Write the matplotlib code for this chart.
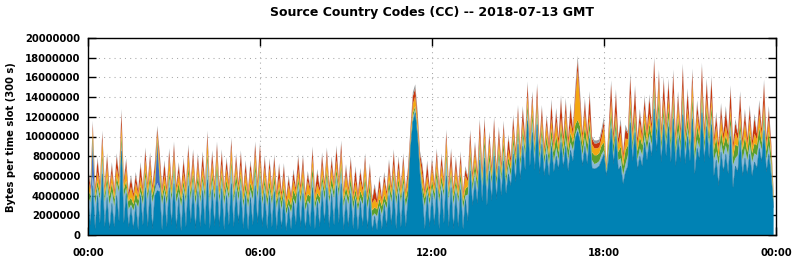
import numpy as np
import matplotlib
matplotlib.use("Agg")
import matplotlib.pyplot as plt

UNIT = 100_000  # values below are in units of 100 kB per 300 s slot

base = [36,10,50,6,40,12,62,8,38,5, 32,8,40,14,85,12,42,8,28,6,
        31,5,40,10,48,8,45,6,40,45, 44,5,40,8,48,10,52,6,38,4,
        42,8,50,12,46,6,44,8,45,10, 56,6,46,9,50,8,47,5,40,10,
        52,8,44,12,45,6,40,5,38,10, 50,12,50,8,42,6,40,8,44,5,
        38,6,36,4,28,6,34,10,44,8, 42,5,32,8,48,6,34,8,45,12,
        48,7,42,10,50,12,52,5,36,8, 42,6,36,5,34,9,45,6,38,4,
        19,5,27,6,31,8,40,10,46,6, 42,8,44,8,37,88,115,124,98,60,
        38,6,40,8,42,10,48,6,45,12, 60,8,48,6,42,8,46,6,36,14,
        65,30,55,32,76,34,78,30,65,35, 80,36,70,40,75,42,62,50,82,54,
        92,56,90,66,116,70,104,66,112,62, 92,60,82,60,90,64,80,66,94,68,
        90,65,86,75,98,105,95,70,90,72, 98,68,67,68,70,76,82,60,78,108,
        72,100,66,70,52,64,70,114,75,104, 66,80,70,94,76,94,80,128,85,118,
        74,112,80,110,74,118,70,98,74,122, 72,100,75,118,62,88,76,124,74,110,
        78,112,60,76,50,84,64,82,62,100, 48,70,64,96,60,78,62,82,60,74,
        68,88,74,106,64,82,60,28]

light = [4,23,10,25,9,24,14,25,15,26, 12,21,13,29,7,27,6,18,3,19,
         3,23,4,21,11,28,9,27,5,8, 3,26,6,23,10,25,13,27,6,25,
         7,25,12,24,11,25,9,25,10,26, 20,27,10,26,15,25,10,26,9,26,
         17,25,9,23,11,23,6,23,8,26, 15,25,14,23,9,23,8,23,8,22,
         5,20,7,17,3,17,3,21,8,25, 10,20,3,23,12,21,3,23,9,24,
         11,26,8,27,11,27,14,24,6,23, 8,20,4,20,4,22,8,21,5,15,
         3,14,3,15,3,19,7,23,11,25, 8,25,9,21,3,4,5,4,6,7,
         4,23,6,23,7,25,10,27,8,27, 17,28,10,25,8,25,9,21,4,27,
         12,15,10,14,12,16,12,18,10,17, 10,14,10,15,11,10,10,10,10,14,
         10,14,11,14,10,15,12,14,12,14, 10,12,10,11,8,10,9,10,8,10,
         9,11,8,11,4,4,5,11,9,10, 8,8,5,5,5,6,4,4,10,9,
         9,8,10,8,9,8,11,10,11,8, 10,8,11,8,10,9,11,13,11,10,
         12,9,11,9,12,10,11,8,12,12, 12,9,11,11,14,9,12,11,12,9,
         13,10,16,9,21,10,17,9,19,12, 23,8,17,10,16,10,14,10,14,9,
         13,9,12,12,12,9,11,4]

steel = [0]*288
steel[2] = 35
steel[14] = 2
steel[29] = 40
steel[30] = 8

green = [7,7,6,8,6,6,7,7,7,8, 9,7,6,6,8,7,7,8,7,6,
         9,7,6,8,7,6,7,7,9,5, 7,8,6,7,7,6,7,8,9,7,
         6,6,7,7,7,8,9,6,6,7, 7,8,7,6,9,7,6,8,7,6,
         7,7,9,8,6,6,7,7,7,8, 9,6,6,7,7,8,7,6,9,7,
         6,8,7,6,7,7,9,8,6,6, 7,7,7,8,9,6,6,7,7,8,
         7,6,9,7,6,8,7,6,7,7, 9,8,6,6,7,7,7,8,9,6,
         6,7,7,8,7,6,9,7,6,8, 7,6,7,7,9,4,4,3,3,4,
         7,8,6,6,7,7,9,8,7,6, 7,7,6,8,7,6,9,7,7,8,
         8,7,9,8,7,7,8,8,9,7, 7,8,8,7,9,8,7,7,8,8,
         9,7,7,8,8,7,9,8,7,7, 8,8,9,9,10,10,12,8,9,9,
         14,10,10,8,10,8,10,9,12,10, 9,8,9,8,8,9,8,3,9,10,
         10,9,8,12,9,14,10,10,8,9, 9,12,10,14,8,10,9,9,10,12,
         8,9,9,10,10,9,8,14,9,9, 10,10,8,12,9,14,10,9,8,10,
         9,9,10,14,8,12,9,10,10,9, 8,14,9,10,10,12,8,14,9,10,
         10,12,8,9,9,14,10,4]

orange = [11,6,7,5,9,7,13,6,11,5, 10,6,9,7,10,6,13,5,11,7,
          10,6,9,5,11,7,13,6,10,6, 11,5,9,6,13,7,11,5,10,6,
          9,7,13,6,11,5,10,7,9,6, 13,5,11,7,10,6,9,5,11,7,
          13,6,10,5,9,7,11,6,13,5, 10,7,9,6,11,5,13,7,10,6,
          9,5,11,7,13,6,10,5,9,7, 11,6,13,5,10,7,9,6,11,5,
          13,7,10,6,9,5,11,7,13,6, 10,5,9,7,11,6,13,5,10,7,
          9,6,11,5,13,7,10,6,9,5, 11,7,13,6,10,6,9,10,8,6,
          11,5,9,7,13,6,10,5,11,7, 13,6,9,5,11,7,10,6,13,5,
          9,6,11,5,8,6,9,5,11,6, 8,5,9,6,11,5,8,6,9,5,
          11,6,8,5,9,6,11,5,8,6, 9,5,11,7,10,6,14,8,8,7,
          12,6,10,8,25,50,22,7,14,6, 8,8,7,7,6,7,16,3,7,10,
          6,8,8,14,7,12,6,10,8,8, 7,14,6,12,8,10,7,8,6,14,
          8,8,7,10,6,8,8,12,7,8, 6,10,8,14,7,12,6,8,8,10,
          7,8,6,12,8,14,7,10,6,8, 8,12,7,10,6,14,8,12,7,10,
          6,14,8,8,7,12,6,4]

red = [9,4,5,4,12,4,7,4,9,4, 8,4,12,4,12,4,7,4,9,4,
       8,4,12,4,9,4,7,4,8,4, 9,4,12,4,7,4,9,4,8,4,
       12,4,7,4,9,4,8,4,12,4, 7,4,9,4,8,4,12,4,9,4,
       7,4,8,4,12,4,9,4,7,4, 8,4,12,4,9,4,7,4,8,4,
       12,4,9,4,7,4,8,4,12,4, 9,4,7,4,8,4,12,4,9,4,
       7,4,8,4,12,4,9,4,7,4, 8,4,12,4,9,4,7,4,8,4,
       12,4,9,4,7,4,8,4,12,4, 9,4,7,4,8,5,8,8,6,5,
       9,4,12,4,7,4,8,4,9,4, 7,4,12,4,9,4,8,4,7,4,
       10,5,7,5,12,5,10,5,7,5, 12,5,10,5,7,5,12,5,10,5,
       7,5,12,5,10,5,7,5,12,5, 10,5,7,6,16,6,10,6,19,6,
       10,6,16,6,8,10,8,6,10,6, 19,6,5,5,5,6,6,2,6,16,
       6,19,6,10,6,10,6,16,6,19, 6,10,6,10,6,16,6,19,6,10,
       6,19,6,16,6,19,6,10,6,19, 6,16,6,10,6,10,6,19,6,16,
       6,19,6,10,6,10,6,16,6,19, 6,10,6,16,6,10,6,10,6,16,
       6,10,6,19,6,10,6,3]

gray = [3,2,3,2,3,2,3,2,3,2, 3,2,3,2,4,2,3,2,3,2,
        3,2,3,2,3,2,3,2,3,3, 3,2,3,2,3,2,3,2,3,2,
        3,2,3,2,3,2,3,2,3,2, 3,2,3,2,3,2,3,2,3,2,
        3,2,3,2,3,2,3,2,3,2, 3,2,3,2,3,2,3,2,3,2,
        3,2,3,2,3,2,3,2,3,2, 3,2,3,2,3,2,3,2,3,2,
        3,2,3,2,3,2,3,2,3,2, 3,2,3,2,3,2,3,2,3,2,
        3,2,3,2,3,2,3,2,3,2, 3,2,3,2,3,3,4,4,4,3,
        3,2,3,2,3,2,3,2,3,2, 3,2,3,2,3,2,3,2,3,2,
        3,2,3,2,3,2,3,2,3,2, 3,2,3,2,3,2,3,2,3,2,
        3,2,3,2,3,2,3,2,3,2, 3,2,3,2,4,2,4,2,4,2,
        4,2,4,2,5,5,5,2,4,2, 4,2,3,3,3,4,4,2,2,4,
        2,4,2,4,2,4,2,4,2,4, 2,4,2,4,2,4,2,4,2,4,
        2,4,2,4,2,4,2,4,2,4, 2,4,2,4,2,4,2,4,2,4,
        2,4,2,4,2,4,2,4,2,4, 2,4,2,4,2,4,2,4,2,4,
        2,4,2,4,2,4,2,2]

layer_colors = ['#0082b4', '#88b9d6', '#3f6fc4', '#5c9e2e', '#f3a712', '#c8370e', '#9a9a9a']

x_tick_pos = [0, 6, 12, 18, 24]
x_tick_labels = ['00:00', '06:00', '12:00', '18:00', '00:00']
y_ticks = list(range(0, 20000001, 2000000))

plt.rcParams['font.family'] = ['DejaVu Sans']
plt.rcParams['font.weight'] = 'bold'

fig = plt.figure(figsize=(7.94, 2.60), dpi=100)
ax = fig.add_axes([88/794, 1-235/260, (776-88)/794, (235-38)/260])

n = len(base)
hours = np.arange(n) * 300 / 3600.0
layers = [np.array(a, dtype=float) * UNIT for a in (base, light, steel, green, orange, red, gray)]
ax.stackplot(hours, *layers, colors=layer_colors, linewidth=0, zorder=2)
ax.plot(hours, layers[0], color='#0a6e98', lw=0.35, zorder=3)

ax.set_xlim(0, 24)
ax.set_ylim(0, 20000000)
ax.set_xticks(x_tick_pos)
ax.set_xticklabels(x_tick_labels)
ax.set_yticks(y_ticks)
ax.set_yticklabels([str(v) for v in y_ticks])

ax.grid(True, color='#a8a8a8', linestyle=(0, (1, 4)), linewidth=0.75, zorder=0)
ax.set_axisbelow(True)
ax.tick_params(axis='both', direction='in', length=6, width=1, top=True, right=True,
               labelsize=7.2, colors='black')
ax.tick_params(axis='x', pad=9)
ax.tick_params(axis='y', pad=5.5)
for lab in ax.get_xticklabels() + ax.get_yticklabels():
    lab.set_fontweight('bold')
for sp in ax.spines.values():
    sp.set_linewidth(1.0)
    sp.set_zorder(5)

fig.text(432/794, 1-16/260, 'Source Country Codes (CC) -- 2018-07-13 GMT',
         ha='center', va='baseline', fontsize=9, fontweight='bold')
fig.text(11/794, 1-137/260, 'Bytes per time slot (300 s)', rotation=90,
         ha='center', va='center', fontsize=7.2, fontweight='bold')

fig.savefig('out.png', dpi=100)
